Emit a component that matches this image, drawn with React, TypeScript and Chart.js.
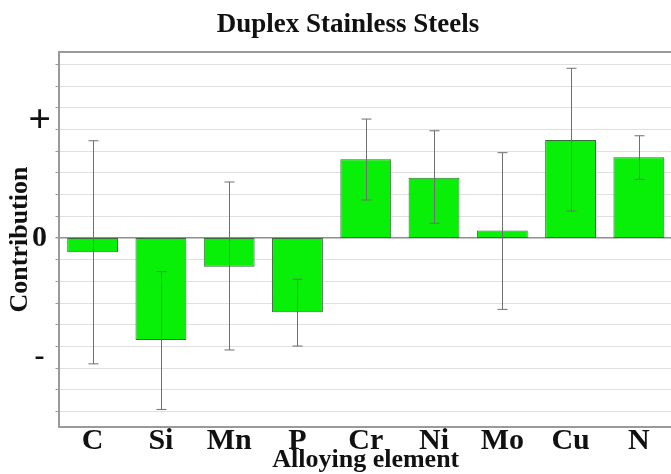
import React, { useEffect, useRef } from "react";
import { Chart, registerables } from "chart.js";

Chart.register(...registerables);

const titleText = "Duplex Stainless Steels";
const xAxisTitle = "Alloying element";
const yAxisTitle = "Contribution";
const categories = ["C", "Si", "Mn", "P", "Cr", "Ni", "Mo", "Cu", "N"];
const contribution = [-0.66, -4.7, -1.32, -3.42, 3.63, 2.78, 0.34, 4.52, 3.72];
const errorLow = [-5.8, -7.9, -5.16, -4.98, 1.75, 0.68, -3.29, 1.24, 2.7];
const errorHigh = [4.48, -1.55, 2.58, -1.9, 5.48, 4.94, 3.93, 7.82, 4.71];
const yGridValues = [-8, -7, -6, -5, -4, -3, -2, -1, 0, 1, 2, 3, 4, 5, 6, 7, 8];
const yLabelValues = [5.38, 0, -5.5];
const yLabelTexts = ["+", "0", "-"];
const yMin = -8.71;
const yMax = 8.57;

const SERIF = '"Liberation Serif", "Times New Roman", Times, serif';

const errorBarPlugin = {
  id: "errorBars",
  afterDatasetsDraw(chart: any) {
    const ctx = chart.ctx;
    const xs = chart.scales.x;
    const ys = chart.scales.y;
    ctx.save();
    ctx.strokeStyle = "#6f6f6f";
    ctx.lineWidth = 1;
    const cap = 5;
    for (let i = 0; i < categories.length; i++) {
      const x = Math.round(xs.getPixelForValue(i)) + 0.5;
      const y1 = ys.getPixelForValue(errorLow[i]);
      const y2 = ys.getPixelForValue(errorHigh[i]);
      ctx.beginPath();
      ctx.moveTo(x, y1);
      ctx.lineTo(x, y2);
      ctx.moveTo(x - cap, y1);
      ctx.lineTo(x + cap, y1);
      ctx.moveTo(x - cap, y2);
      ctx.lineTo(x + cap, y2);
      ctx.stroke();
    }
    ctx.restore();
  },
};

export default function App() {
  const ref = useRef<HTMLCanvasElement>(null);
  useEffect(() => {
    if (!ref.current) return;
    const chart = new Chart(ref.current, {
      type: "bar",
      data: {
        labels: categories,
        datasets: [
          {
            data: contribution,
            backgroundColor: "#08f008",
            borderColor: "#3a6a3a",
            borderWidth: 1,
            borderSkipped: false,
            barPercentage: 0.745,
            categoryPercentage: 1,
          },
        ],
      },
      options: {
        responsive: false,
        animation: false,
        devicePixelRatio: 1,
        layout: { padding: 0 },
        plugins: {
          legend: { display: false },
          tooltip: { enabled: false },
          title: {
            display: true,
            text: titleText,
            color: "#111",
            font: { family: SERIF, size: 27, weight: "bold", lineHeight: 1.2 },
            padding: { top: 8.5, bottom: 11.1 },
          },
        },
        scales: {
          x: {
            type: "category",
            position: "bottom",
            offset: true,
            grid: { display: false, drawTicks: false },
            border: { display: true, color: "#9a9a9a", width: 2 },
            ticks: {
              color: "#111",
              padding: 1,
              autoSkip: false,
              maxRotation: 0,
              font: { family: SERIF, size: 30, weight: "bold", lineHeight: 0.9 },
            },
            title: {
              display: true,
              text: xAxisTitle,
              color: "#111",
              font: { family: SERIF, size: 26, weight: "bold", lineHeight: 1 },
              padding: { top: 0, bottom: 1 },
            },
            afterFit: (s: any) => {
              s.height = 47;
            },
          },
          xTop: {
            type: "category",
            position: "top",
            grid: { display: false, drawTicks: false },
            ticks: { display: false },
            border: { display: true, color: "#9a9a9a", width: 2 },
            afterFit: (s: any) => {
              s.height = 0;
            },
          },
          yRight: {
            type: "linear",
            position: "right",
            min: yMin,
            max: yMax,
            grid: { display: false, drawTicks: false },
            ticks: { display: false },
            border: { display: false },
            afterFit: (s: any) => {
              s.width = 23;
            },
          },
          y: {
            type: "linear",
            position: "left",
            min: yMin,
            max: yMax,
            afterBuildTicks: (s: any) => {
              s.ticks = yGridValues
                .concat(yLabelValues.filter((v) => !yGridValues.includes(v)))
                .map((v) => ({ value: v }));
            },
            grid: {
              color: (c: any) => {
                const v = c.tick ? c.tick.value : 1;
                if (v === 0) return "#8f8f8f";
                return Number.isInteger(v) ? "#e0e0e0" : "rgba(0,0,0,0)";
              },
              lineWidth: (c: any) => (c.tick && c.tick.value === 0 ? 1.5 : 1),
              tickLength: 3,
              tickColor: (c: any) =>
                c.tick && Number.isInteger(c.tick.value) ? "#9a9a9a" : "rgba(0,0,0,0)",
            },
            border: { display: true, color: "#9a9a9a", width: 2 },
            ticks: {
              autoSkip: false,
              padding: 4.5,
              crossAlign: "center",
              color: "#111",
              callback: (v: any) => {
                const idx = yLabelValues.indexOf(Number(v));
                return idx >= 0 ? yLabelTexts[idx] : "";
              },
              font: (c: any) => ({
                family: SERIF,
                weight: "bold",
                size: c.tick && c.tick.value === yLabelValues[0] ? 40 : 30,
                lineHeight: 1,
              }),
            },
            title: {
              display: true,
              text: yAxisTitle,
              color: "#111",
              font: { family: SERIF, size: 26, weight: "bold", lineHeight: 1.2 },
              padding: { top: 5, bottom: 0 },
            },
            afterFit: (s: any) => {
              s.width = 58.5;
            },
          },
        },
      },
      plugins: [errorBarPlugin],
    } as any);
    return () => chart.destroy();
  }, []);

  return (
    <div
      style={{
        position: "fixed",
        left: 0,
        top: 0,
        width: 671,
        height: 474,
        overflow: "hidden",
        background: "#ffffff",
      }}
    >
      <div style={{ width: 696, height: 474 }}>
        <canvas ref={ref} width={696} height={474} style={{ display: "block" }} />
      </div>
    </div>
  );
}
